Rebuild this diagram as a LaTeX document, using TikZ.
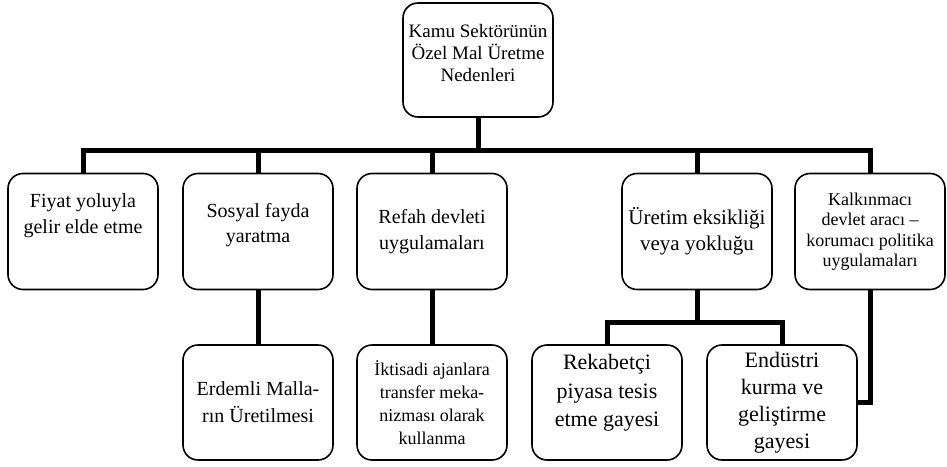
\documentclass[tikz,border=0pt]{standalone}
\usepackage{fontspec}
\setmainfont{Liberation Serif}
\usetikzlibrary{calc}

\begin{document}
\begin{tikzpicture}[x=1pt,y=-1pt,
	box/.style={draw,line width=1.6pt,rounded corners=15pt,align=center,
		minimum width=150pt,minimum height=116pt,inner sep=2pt,
		font=\fontsize{20}{25.5}\selectfont},
	link/.style={line width=5pt}]
	
	\useasboundingbox (0,0) rectangle (947,466);
	
	% --- top box ---
	\node[box,minimum height=114pt,text depth=14pt,
	font=\fontsize{19}{21.7}\selectfont] (kamu) at (478,60)
	{Kamu Sektörünün\\Özel Mal Üretme\\Nedenleri};
	
	% --- first row ---
	\node[box,text depth=36pt] (fiyat) at (83,231.5)
	{Fiyat yoluyla\\gelir elde etme};
	\node[box,text depth=17pt] (sosyal) at (258,231.5)
	{Sosyal fayda\\yaratma};
	\node[box] (refah) at (432,231.5)
	{Refah devleti\\uygulamaları};
	\node[box,font=\fontsize{21}{26.5}\selectfont] (uretim) at (697,231.5)
	{Üretim eksikliği\\veya yokluğu};
	\node[box,font=\fontsize{18}{20.5}\selectfont] (kalkinma) at (870,231.5)
	{Kalkınmacı\\devlet aracı --\\korumacı politika\\uygulamaları};
	
	% --- second row ---
	\node[box,minimum height=115pt,font=\fontsize{20}{27}\selectfont] (erdemli) at (258,402.5)
	{Erdemli Malla-\\rın Üretilmesi};
	\node[box,minimum height=115pt,font=\fontsize{18}{23}\selectfont] (iktisadi) at (432,402.5)
	{İktisadi ajanlara\\transfer meka-\\nizması olarak\\kullanma};
	\node[box,minimum height=115pt,text depth=24pt,
	font=\fontsize{22}{28.5}\selectfont] (rekabet) at (607,402.5)
	{Rekabetçi\\piyasa tesis\\etme gayesi};
	\node[box,minimum height=115pt,font=\fontsize{22}{27}\selectfont] (endustri) at (782,402.5)
	{Endüstri\\kurma ve\\geliştirme\\gayesi};
	
	% bus lines
	\coordinate (bar) at (0,150);
	\coordinate (sub) at (0,322);
	
	% top to first row
	\draw[link] (kamu.south) -- (kamu.south |- bar);
	\draw[link] (fiyat.north) |- (kalkinma.north |- bar) -- (kalkinma.north);
	\draw[link] (sosyal.north) -- (sosyal.north |- bar);
	\draw[link] (refah.north) -- (refah.north |- bar);
	\draw[link] (uretim.north) -- (uretim.north |- bar);
	
	% first row to second row
	\draw[link] (sosyal.south) -- (erdemli.north);
	\draw[link] (refah.south) -- (iktisadi.north);
	\draw[link] (uretim.south) -- (uretim.south |- sub);
	\draw[link] (rekabet.north) |- (endustri.north |- sub) -- (endustri.north);
	\draw[link] (kalkinma.south) |- (endustri.east);
	
\end{tikzpicture}
\end{document}
